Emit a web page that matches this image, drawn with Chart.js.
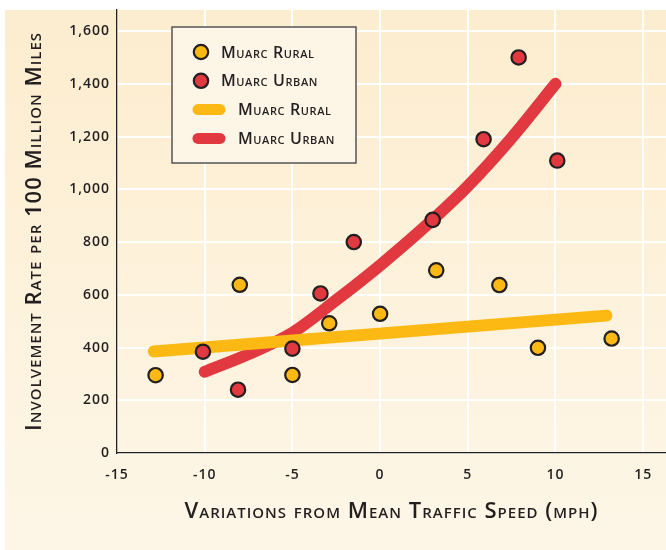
<!DOCTYPE html>
<html>
<head>
<meta charset="utf-8">
<script src="https://cdn.jsdelivr.net/npm/chart.js@4"></script>
<style>
    body { margin: 0; background: #fff; }
    canvas { display: block; }
</style>
</head>
<body>
<canvas id="chart" width="666" height="550"></canvas>
<script>
// observed crash involvement, speed deviation (mph) vs rate per 100M miles
const ruralSpeed = [-12.8, -8, -5, -2.9, 0, 3.2, 6.8, 9, 13.2];
const ruralRate = [295, 638, 296, 492, 528, 693, 637, 399, 434];
const urbanSpeed = [-10.1, -8.1, -5, -3.4, -1.5, 3, 5.9, 7.9, 10.1];
const urbanRate = [384, 240, 396, 605, 800, 884, 1190, 1500, 1109];

// fitted curves
const ruralFitSpeed = [-12.9, 12.9];
const ruralFitRate = [385, 521];
const urbanFitSpeed = [-10, -7.5, -5, -2.5, 0, 2.5, 5, 7.5, 10];
const urbanFitRate = [308, 375, 456, 580, 712, 855, 1012, 1195, 1400];

const xTicks = [-15, -10, -5, 0, 5, 10, 15];
const yTicks = [0, 200, 400, 600, 800, 1000, 1200, 1400, 1600];

const yellow = '#fdb913';
const red = '#e1393f';
const ink = '#231f20';
const family = '"Open Sans", sans-serif';

function pairs(xs, ys) {
    return xs.map((x, i) => ({ x: x, y: ys[i] }));
}

const backdrop = {
    id: 'backdrop',
    beforeDraw(chart) {
        const ctx = chart.ctx;
        const g = ctx.createLinearGradient(0, 10, 0, chart.height);
        g.addColorStop(0, '#fdedcf');
        g.addColorStop(1, '#fdf6e7');
        ctx.save();
        ctx.fillStyle = g;
        ctx.fillRect(5, 10, chart.width - 5, chart.height - 10);
        ctx.restore();
        // axis text in the original is slightly tracked
        ctx.letterSpacing = '1px';
    },
    beforeDatasetsDraw(chart) {
        chart.ctx.letterSpacing = '0px';
    }
};

const boxLegend = {
    id: 'boxLegend',
    afterDraw(chart) {
        const ctx = chart.ctx;
        const sets = chart.data.datasets;
        ctx.save();
        ctx.fillStyle = '#fdf6e7';
        ctx.fillRect(172, 27, 184, 136);
        ctx.strokeStyle = '#555';
        ctx.lineWidth = 1.5;
        ctx.strokeRect(172, 27, 184, 136);
        ctx.font = 'small-caps 600 16px ' + family;
        ctx.letterSpacing = '0.6px';
        ctx.textBaseline = 'middle';
        sets.forEach((ds, i) => {
            const y = 52 + i * 28.8;
            let tx = 221;
            if (ds.showLine) {
                ctx.strokeStyle = ds.borderColor;
                ctx.lineWidth = 11;
                ctx.lineCap = 'round';
                ctx.beginPath();
                ctx.moveTo(198, y);
                ctx.lineTo(220, y);
                ctx.stroke();
                tx = 238;
            } else {
                ctx.beginPath();
                ctx.arc(201, y, 7.2, 0, Math.PI * 2);
                ctx.fillStyle = ds.backgroundColor;
                ctx.fill();
                ctx.lineWidth = 2.2;
                ctx.strokeStyle = ink;
                ctx.stroke();
            }
            ctx.fillStyle = ink;
            ctx.fillText(ds.label, tx, y + 1);
        });
        ctx.restore();
    }
};

new Chart(document.getElementById('chart'), {
    type: 'scatter',
    data: {
        datasets: [{
            label: 'Muarc Rural',
            data: pairs(ruralSpeed, ruralRate),
            backgroundColor: yellow,
            borderColor: ink,
            borderWidth: 2.2,
            pointRadius: 7.2,
            order: 1
        }, {
            label: 'Muarc Urban',
            data: pairs(urbanSpeed, urbanRate),
            backgroundColor: red,
            borderColor: ink,
            borderWidth: 2.2,
            pointRadius: 7.2,
            order: 1
        }, {
            label: 'Muarc Rural',
            data: pairs(ruralFitSpeed, ruralFitRate),
            showLine: true,
            borderColor: yellow,
            borderWidth: 12,
            borderCapStyle: 'round',
            pointRadius: 0,
            order: 2
        }, {
            label: 'Muarc Urban',
            data: pairs(urbanFitSpeed, urbanFitRate),
            showLine: true,
            borderColor: red,
            borderWidth: 12,
            borderCapStyle: 'round',
            cubicInterpolationMode: 'monotone',
            pointRadius: 0,
            order: 3
        }]
    },
    options: {
        responsive: false,
        animation: false,
        layout: {
            autoPadding: false,
            padding: { top: 10, right: 0, left: 0, bottom: 0 }
        },
        plugins: {
            legend: { display: false },
            tooltip: { enabled: false }
        },
        scales: {
            x: {
                type: 'linear',
                min: -15,
                max: 16.3,
                afterBuildTicks(scale) {
                    scale.ticks = xTicks.map(v => ({ value: v }));
                },
                afterFit(scale) {
                    scale.height = 97;
                    scale.paddingLeft = 0;
                    scale.paddingRight = 0;
                },
                grid: { color: '#fff', lineWidth: 2, drawTicks: false },
                border: { color: ink, width: 1.3 },
                ticks: {
                    color: ink,
                    padding: 14,
                    font: { family: family, size: 14, weight: '600' }
                },
                title: {
                    display: true,
                    text: 'Variations from Mean Traffic Speed (mph)',
                    color: ink,
                    padding: { top: 0, bottom: 25 },
                    font: { family: family, size: 22, weight: 'small-caps 600' }
                }
            },
            y: {
                min: 0,
                max: 1680,
                afterBuildTicks(scale) {
                    scale.ticks = yTicks.map(v => ({ value: v }));
                },
                afterFit(scale) {
                    scale.width = 117;
                    scale.paddingTop = 0;
                    scale.paddingBottom = 0;
                },
                grid: { color: '#fff', lineWidth: 2, drawTicks: false },
                border: { color: ink, width: 1.3 },
                ticks: {
                    color: ink,
                    padding: 7,
                    font: { family: family, size: 14, weight: '600' }
                },
                title: {
                    display: true,
                    text: 'Involvement Rate per 100 Million Miles',
                    color: ink,
                    padding: { top: 22, bottom: 0 },
                    font: { family: family, size: 22, weight: 'small-caps 600' }
                }
            }
        }
    },
    plugins: [backdrop, boxLegend]
});
</script>
</body>
</html>
